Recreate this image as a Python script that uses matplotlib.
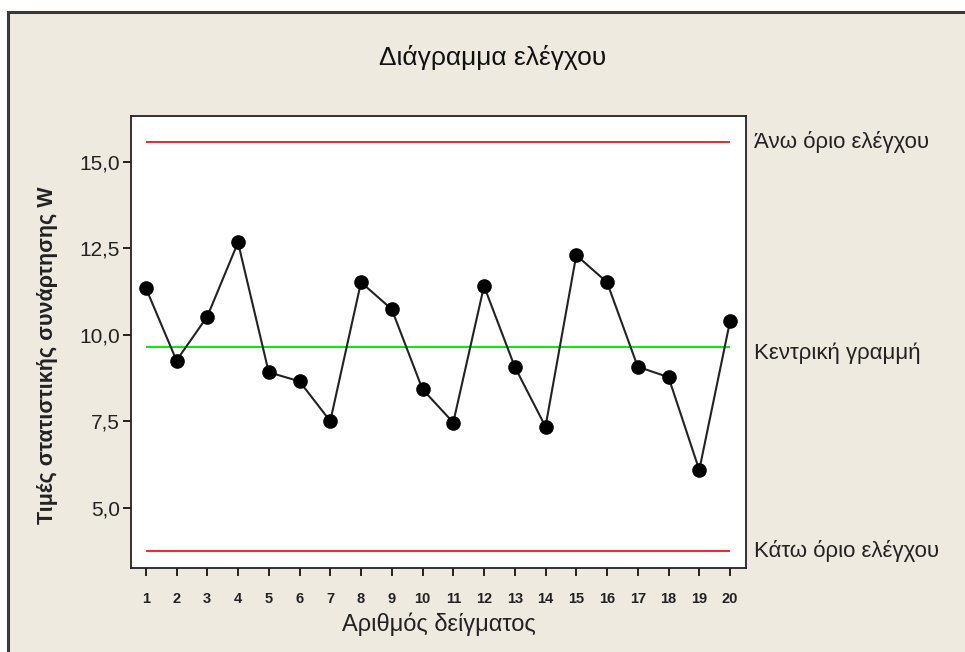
import numpy as np
import matplotlib
matplotlib.use("Agg")
import matplotlib.pyplot as plt
from matplotlib.patches import Rectangle

plt.rcParams['font.family'] = ['Liberation Sans', 'DejaVu Sans']

# data
samples = list(range(1, 21))
w_values = [11.36, 9.26, 10.53, 12.67, 8.92, 8.66, 7.51, 11.52, 10.74, 8.43,
            7.47, 11.41, 9.08, 7.35, 12.30, 11.52, 9.08, 8.78, 6.10, 10.39]
ucl = 15.58
cl = 9.66
lcl = 3.77
ytick_vals = [5.0, 7.5, 10.0, 12.5, 15.0]
ytick_labels = ["5,0", "7,5", "10,0", "12,5", "15,0"]
limit_names = ["Άνω όριο ελέγχου", "Κεντρική γραμμή", "Κάτω όριο ελέγχου"]

title = "Διάγραμμα ελέγχου"
xlabel = "Αριθμός δείγματος"
ylabel = "Τιμές στατιστικής συνάρτησης W"

bg = "#eeeae0"

fig = plt.figure(figsize=(9.65, 6.52), dpi=100)
fig.patch.set_facecolor("white")
# beige panel with a dark frame on the left and top
fig.patches.append(Rectangle((8/965, -0.2), 1.5, 1 - 12/652 + 0.2,
                             transform=fig.transFigure, facecolor=bg,
                             edgecolor="#3a3a3a", linewidth=2.2, zorder=-10))

ax = fig.add_axes([131/965, 1 - 568/652, 615/965, 452/652])
ax.set_facecolor("white")

ax.hlines([ucl, lcl], 1, 20, colors="#ff2020", linewidth=1.4, zorder=2)
ax.hlines(cl, 1, 20, colors="#00ee00", linewidth=1.4, zorder=2)
ax.plot(samples, w_values, color="#222222", linewidth=1.5,
        marker="o", markersize=9.5, markerfacecolor="black",
        markeredgecolor="black", zorder=3)

ax.set_xlim(0.52, 20.52)
ax.set_ylim(3.27, 16.32)
ax.set_xticks(samples)
ax.set_xticklabels([str(s) for s in samples], fontsize=10.5, fontweight="bold",
                   color="#222222")
ax.set_yticks(ytick_vals)
ax.set_yticklabels(ytick_labels, fontsize=15, color="#222222")
ax.tick_params(axis="both", direction="out", length=6, width=1.2, color="black")
ax.tick_params(axis="x", pad=11)
ax.tick_params(axis="y", pad=2)
for sp in ax.spines.values():
    sp.set_linewidth(1.3)
    sp.set_color("#222222")

ax.set_xlabel(xlabel, fontsize=17, color="#222222", labelpad=5)
ax.set_ylabel(ylabel, fontsize=15.5, fontweight="bold", color="#222222")
ax.yaxis.set_label_coords(-73/615, 0.47)

# labels for control limits on the right
for name, yv, dy in zip(limit_names, [ucl, cl, lcl], [0, -5, 0]):
    ax.annotate(name, xy=(1.0, yv), xycoords=("axes fraction", "data"),
                xytext=(6, dy), textcoords="offset points",
                ha="left", va="center", fontsize=16, color="#222222")

fig.text(493/965, 1 - 57/652, title, ha="center", va="center",
         fontsize=19, color="#111111")

fig.savefig("out.png", dpi=100, facecolor=fig.get_facecolor())
